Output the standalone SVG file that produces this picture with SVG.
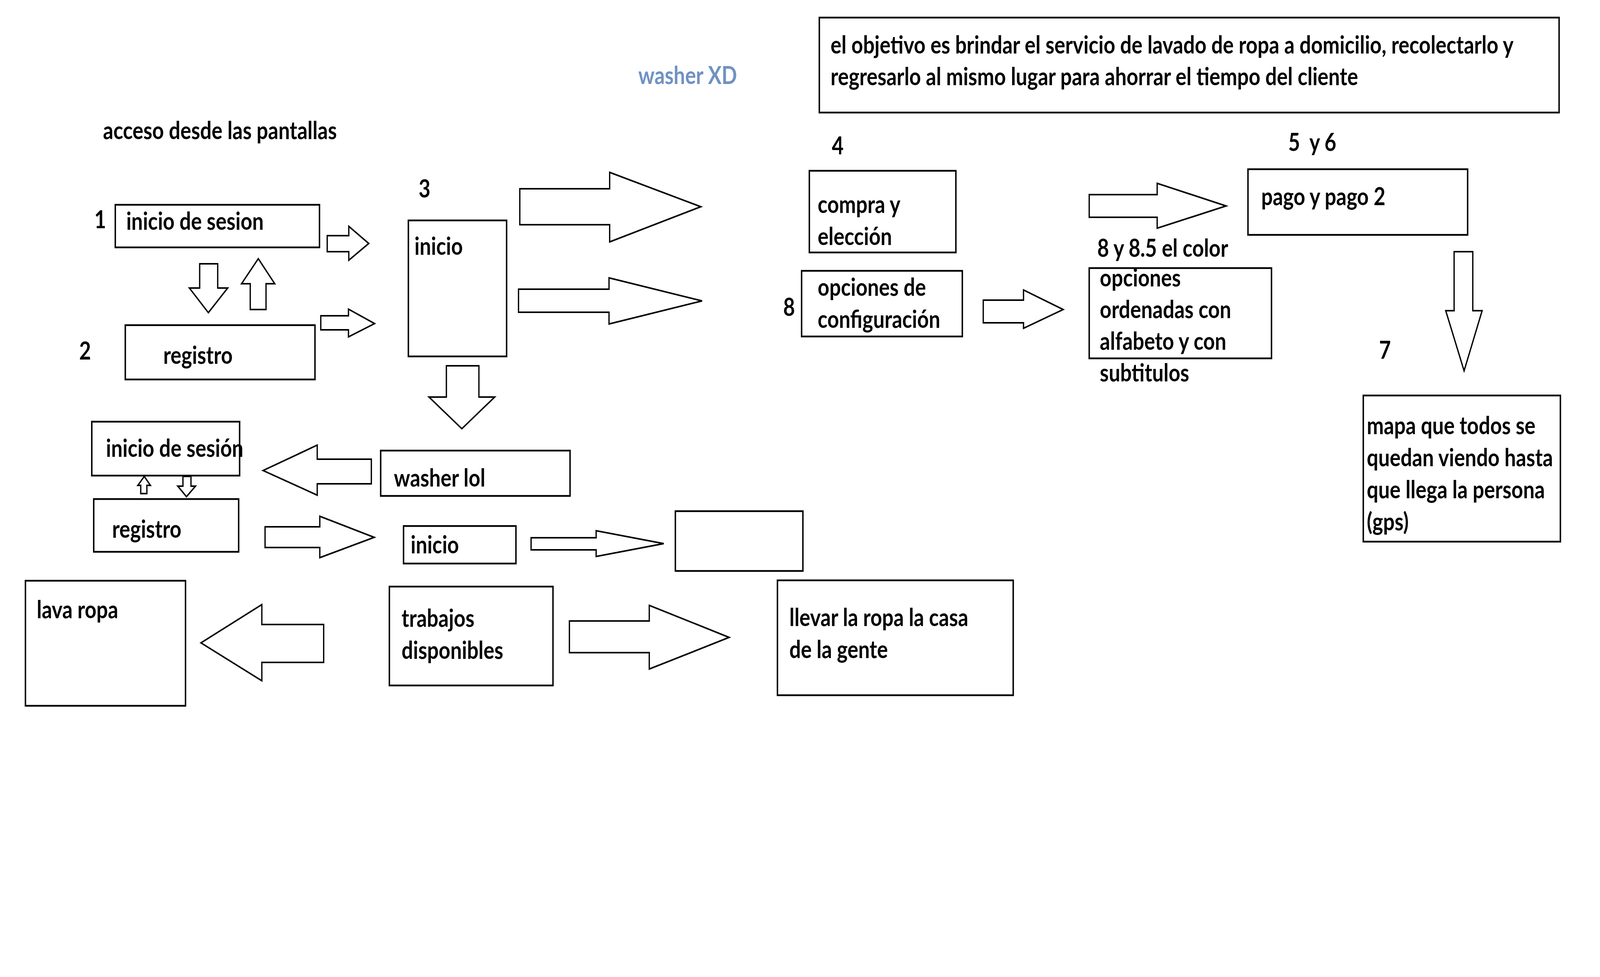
<svg xmlns="http://www.w3.org/2000/svg" width="4968" height="2500" viewBox="0 0 4968 2500" preserveAspectRatio="none">
<style>
:root{width:100vw;height:100vh}
.bx{fill:#fff;stroke:#000;stroke-width:4.5}
.ar{fill:#fff;stroke:#000;stroke-width:4;stroke-linejoin:miter}
text{font-family:Lato,"Open Sans","Liberation Sans",sans-serif;font-weight:bold;font-size:63px;fill:#000;white-space:pre}
.blue{fill:#7092C2}
</style>
<rect width="4968" height="2500" fill="#fff"/>
<g id="connectors">
<polygon class="ar" points="1016,603 1083,603 1083,579 1145,623 1083,666 1083,644 1016,644"/>
<polygon class="ar" points="996,808 1082,808 1082,791 1163,828 1082,862 1082,844 996,844"/>
<polygon class="ar" points="620,675 676,675 676,737 707,737 647,800 588,737 620,737"/>
<polygon class="ar" points="777,792 826,792 826,726 853,726 802,662 750,726 777,726"/>
<polygon class="ar" points="1614,483 1893,483 1893,441 2176,529 1893,619 1893,575 1614,575"/>
<polygon class="ar" points="1610,740 1891,740 1891,711 2180,770 1891,829 1891,799 1610,799"/>
<polygon class="ar" points="3053,768 3178,768 3178,742 3301,792 3178,840 3178,826 3053,826"/>
<polygon class="ar" points="3382,498 3593,498 3593,469 3807,527 3593,584 3593,556 3382,556"/>
<polygon class="ar" points="4515,644 4573,644 4573,795 4602,795 4546,949 4489,795 4515,795"/>
<polygon class="ar" points="1386,936 1487,936 1487,1016 1536,1016 1434,1097 1332,1016 1386,1016"/>
<polygon class="ar" points="1153,1175 985,1175 985,1139 817,1204 985,1267 985,1238 1153,1238"/>
<polygon class="ar" points="437,1263 456,1263 456,1242 467,1242 448,1219 428,1242 437,1242"/>
<polygon class="ar" points="568,1219 593,1219 593,1244 607,1244 579,1271 552,1244 568,1244"/>
<polygon class="ar" points="823,1348 993,1348 993,1321 1162,1375 993,1427 993,1401 823,1401"/>
<polygon class="ar" points="1649,1376 1851,1376 1851,1358 2061,1391 1851,1424 1851,1407 1649,1407"/>
<polygon class="ar" points="1768,1589 2016,1589 2016,1549 2264,1631 2016,1712 2016,1670 1768,1670"/>
<polygon class="ar" points="1005,1598 813,1598 813,1547 624,1645 813,1742 813,1695 1005,1695"/>
</g>
<g id="title"><text x="320" y="356">acceso desde las pantallas</text></g>
<g id="washer-xd"><text class="blue" x="1982" y="215">washer XD</text></g>
<g id="objective">
<rect class="bx" x="2544" y="45" width="2297" height="243"/>
<text x="2579" y="137">el objetivo es brindar el servicio de lavado de ropa a domicilio, recolectarlo y</text>
<text x="2579" y="218">regresarlo al mismo lugar para ahorrar el tiempo del cliente</text>
</g>
<g id="n1">
<text x="293" y="584">1</text>
<rect class="bx" x="358" y="524" width="634" height="109"/>
<text x="392" y="588">inicio de sesion</text>
</g>
<g id="n2">
<text x="246" y="920">2</text>
<rect class="bx" x="389" y="832" width="589" height="139"/>
<text x="507" y="931">registro</text>
</g>
<g id="n3">
<text x="1300" y="505">3</text>
<rect class="bx" x="1268" y="564" width="305" height="348"/>
<text x="1287" y="652">inicio</text>
</g>
<g id="n4">
<text x="2583" y="395">4</text>
<rect class="bx" x="2513" y="437" width="455" height="209"/>
<text x="2539" y="545">compra y</text>
<text x="2539" y="627">elección</text>
</g>
<g id="n8">
<text x="2432" y="808">8</text>
<rect class="bx" x="2489" y="693" width="499" height="168"/>
<text x="2539" y="757">opciones de</text>
<text x="2539" y="839">configuración</text>
</g>
<g id="n85">
<text x="3407" y="657">8 y 8.5 el color</text>
<rect class="bx" x="3382" y="686" width="566" height="231"/>
<text x="3415" y="733">opciones</text>
<text x="3415" y="814">ordenadas con</text>
<text x="3415" y="895">alfabeto y con</text>
<text x="3415" y="976">subtitulos</text>
</g>
<g id="n56">
<text x="4000" y="386">5  y 6</text>
<rect class="bx" x="3875" y="433" width="682" height="168"/>
<text x="3916" y="525">pago y pago 2</text>
</g>
<g id="n7">
<text x="4282" y="918">7</text>
<rect class="bx" x="4233" y="1012" width="612" height="374"/>
<text x="4244" y="1111">mapa que todos se</text>
<text x="4244" y="1193">quedan viendo hasta</text>
<text x="4244" y="1275">que llega la persona</text>
<text x="4244" y="1357">(gps)</text>
</g>
<g id="n-sesion2">
<rect class="bx" x="285" y="1079" width="459" height="138"/>
<text x="329" y="1169">inicio de sesión</text>
</g>
<g id="n-registro2">
<rect class="bx" x="291" y="1277" width="450" height="135"/>
<text x="348" y="1376">registro</text>
</g>
<g id="n-washerlol">
<rect class="bx" x="1182" y="1153" width="588" height="116"/>
<text x="1223" y="1245">washer lol</text>
</g>
<g id="n-inicio2">
<rect class="bx" x="1253" y="1346" width="349" height="96"/>
<text x="1275" y="1416">inicio</text>
</g>
<g id="n-empty">
<rect class="bx" x="2097" y="1308" width="396" height="153"/>
</g>
<g id="n-trabajos">
<rect class="bx" x="1209" y="1501" width="508" height="253"/>
<text x="1247" y="1604">trabajos</text>
<text x="1247" y="1686">disponibles</text>
</g>
<g id="n-llevar">
<rect class="bx" x="2414" y="1485" width="732" height="294"/>
<text x="2451" y="1602">llevar la ropa la casa</text>
<text x="2451" y="1684">de la gente</text>
</g>
<g id="n-lavaropa">
<rect class="bx" x="79" y="1486" width="497" height="320"/>
<text x="114" y="1582">lava ropa</text>
</g>
</svg>
